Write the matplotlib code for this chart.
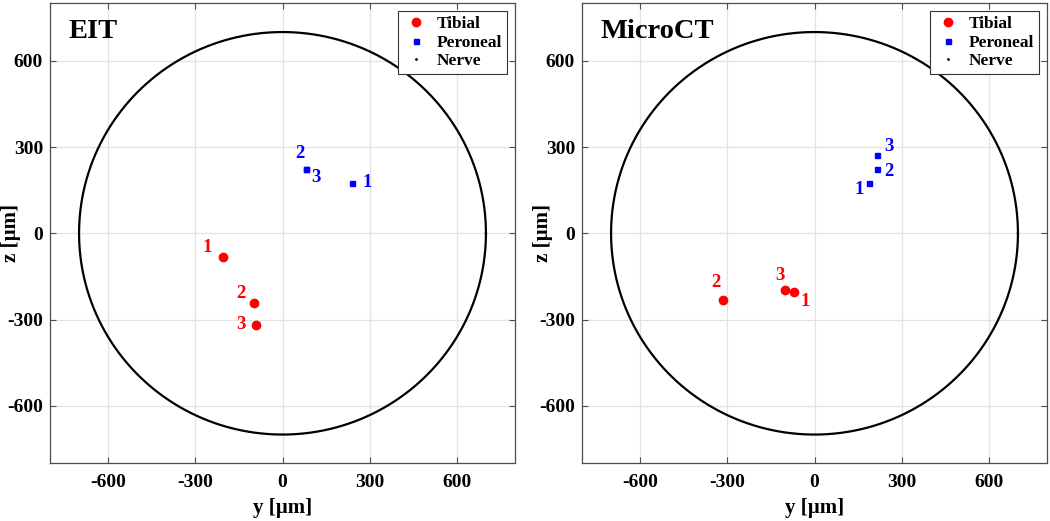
import numpy as np
import matplotlib
matplotlib.use("Agg")
import matplotlib.pyplot as plt
from matplotlib.lines import Line2D

plt.rcParams['font.family'] = ['Liberation Serif', 'DejaVu Serif']
plt.rcParams['font.weight'] = 'bold'

# ---------------- data ----------------
panel_titles = ["EIT", "MicroCT"]
nerve_radius = 700
tick_values = [-600, -300, 0, 300, 600]
tick_labels = ["-600", "-300", "0", "300", "600"]
point_ids = ["1", "2", "3"]

eit_tibial_y = [-206, -98, -90]
eit_tibial_z = [-82, -243, -318]
eit_peroneal_y = [240, 82, 82]
eit_peroneal_z = [176, 223, 222]

ct_tibial_y = [-71, -314, -103]
ct_tibial_z = [-203, -232, -197]
ct_peroneal_y = [189, 214, 216]
ct_peroneal_z = [174, 225, 271]

# label offsets in pixels (style only)
eit_tib_off = [(-15, 9), (-13, 10), (-15, 0)]
eit_per_off = [(15, 0), (-6, 16), (10, -8)]
ct_tib_off = [(11, -10), (-7, 17), (-5, 14)]
ct_per_off = [(-10, -6), (12, -3), (12, 9)]

panels = [
    (eit_tibial_y, eit_tibial_z, eit_peroneal_y, eit_peroneal_z, eit_tib_off, eit_per_off),
    (ct_tibial_y, ct_tibial_z, ct_peroneal_y, ct_peroneal_z, ct_tib_off, ct_per_off),
]

fig = plt.figure(figsize=(10.5, 5.21), dpi=100)
W, H = 1050, 521
axes_px = [(50, 515), (582, 1047)]
top_px, bot_px = 3.3, 463.3

theta = np.linspace(0, 2 * np.pi, 400)
spine_col = '#4d4d4d'

for i, (ax_px, title, pdata) in enumerate(zip(axes_px, panel_titles, panels)):
    x0, x1 = ax_px
    ax = fig.add_axes([x0 / W, 1 - bot_px / H, (x1 - x0) / W, (bot_px - top_px) / H])
    ty, tz, py, pz, toff, poff = pdata
    ax.plot(nerve_radius * np.cos(theta), nerve_radius * np.sin(theta),
            color='black', lw=1.6, zorder=2)
    ax.plot(ty, tz, 'o', color='#ff0000', ms=6, ls='none', zorder=3)
    ax.plot(py, pz, 's', color='#0000ff', ms=3.6, ls='none', zorder=3)
    for k in range(3):
        ax.annotate(point_ids[k], (ty[k], tz[k]), xytext=toff[k], textcoords='offset pixels',
                    ha='center', va='center', color='#ff0000', fontsize=13.5, fontweight='bold')
        ax.annotate(point_ids[k], (py[k], pz[k]), xytext=poff[k], textcoords='offset pixels',
                    ha='center', va='center', color='#0000ff', fontsize=13.5, fontweight='bold')
    ax.set_xlim(-800, 800)
    ax.set_ylim(-800, 800)
    ax.set_xticks(tick_values)
    ax.set_xticklabels(tick_labels)
    ax.set_yticks(tick_values)
    ax.set_yticklabels(tick_labels)
    ax.grid(True, color='#e3e3e3', lw=0.9, zorder=0)
    ax.set_axisbelow(True)
    ax.tick_params(direction='in', top=True, right=True, length=4, width=0.8,
                   colors=spine_col, labelcolor='black', labelsize=14)
    ax.tick_params(axis='x', pad=8)
    ax.tick_params(axis='y', pad=5)
    for lab in ax.get_xticklabels() + ax.get_yticklabels():
        lab.set_fontweight('bold')
    for s in ax.spines.values():
        s.set_color(spine_col)
        s.set_linewidth(0.9)
    ax.set_xlabel('y [µm]', fontsize=15, fontweight='bold')
    ax.set_ylabel('z [µm]', fontsize=15, fontweight='bold')
    ax.xaxis.set_label_coords(0.5, -0.075)
    ax.yaxis.set_label_coords(-0.062, 0.5)
    ax.text(0.04, 0.965, title, transform=ax.transAxes, fontsize=20.5, fontweight='bold',
            ha='left', va='top')
    handles = [
        Line2D([], [], marker='o', color='#ff0000', ls='none', ms=6),
        Line2D([], [], marker='s', color='#0000ff', ls='none', ms=3.6),
        Line2D([], [], marker='.', color='black', ls='none', ms=2),
    ]
    leg = ax.legend(handles, ['Tibial', 'Peroneal', 'Nerve'], loc='upper right',
                    prop={'weight': 'bold', 'size': 12.5}, fancybox=False, framealpha=1,
                    edgecolor='#333333', borderpad=0.3, labelspacing=0.12,
                    handletextpad=0.5, handlelength=1.4, borderaxespad=0.45)
    leg.get_frame().set_linewidth(0.8)

fig.savefig('out.png', dpi=100)
